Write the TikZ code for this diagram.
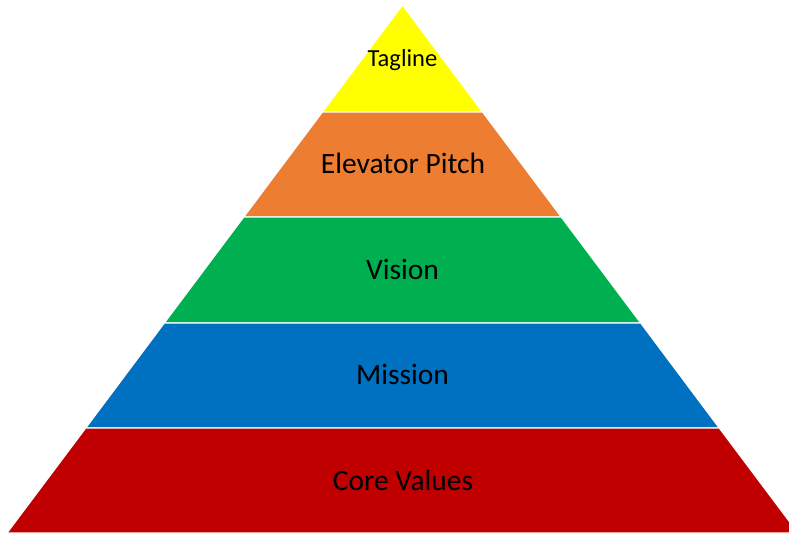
\documentclass[tikz,border=0pt]{standalone}
\usepackage{fontspec}
\setmainfont{Carlito}
\definecolor{cyellow}{HTML}{FFFF00}
\definecolor{corange}{HTML}{ED7D31}
\definecolor{cgreen}{HTML}{00B050}
\definecolor{cblue}{HTML}{0070C0}
\definecolor{cred}{HTML}{C00000}
\tikzset{
  layer/.style={draw=white, line width=1.2pt, line join=miter},
  lbl/.style={text=black, font=\fontsize{29.5}{34}\selectfont, inner sep=0pt, anchor=base},
  lblsmall/.style={text=black, font=\fontsize{24.5}{29}\selectfont, inner sep=0pt, anchor=base}
}
\begin{document}
\begin{tikzpicture}[x=1pt,y=1pt]
\useasboundingbox (0,0) rectangle (789,535);
\clip (0,0) rectangle (789,535);
\fill[white] (0,0) rectangle (789,535);
\coordinate (A) at (402.5,530);
\coordinate (L1) at (322.4,423); \coordinate (R1) at (482.6,423);
\coordinate (L2) at (243.7,318); \coordinate (R2) at (561.3,318);
\coordinate (L3) at (164.3,212); \coordinate (R3) at (640.7,212);
\coordinate (L4) at (85.7,107);  \coordinate (R4) at (719.3,107);
\coordinate (L5) at (7,2);       \coordinate (R5) at (798,2);
\filldraw[layer, fill=cyellow] (A) -- (R1) -- (L1) -- cycle;
\filldraw[layer, fill=corange] (L1) -- (R1) -- (R2) -- (L2) -- cycle;
\filldraw[layer, fill=cgreen] (L2) -- (R2) -- (R3) -- (L3) -- cycle;
\filldraw[layer, fill=cblue] (L3) -- (R3) -- (R4) -- (L4) -- cycle;
\filldraw[layer, fill=cred] (L4) -- (R4) -- (R5) -- (L5) -- cycle;
\node[lblsmall] (t1) at (402.5,468) {Tagline};
\node[lbl] (t2) at (403,361) {Elevator Pitch};
\node[lbl] (t3) at (402.5,255.5) {Vision};
\node[lbl] (t4) at (402.5,150) {Mission};
\node[lbl] (t5) at (403,44.5) {Core Values};
\end{tikzpicture}
\end{document}
